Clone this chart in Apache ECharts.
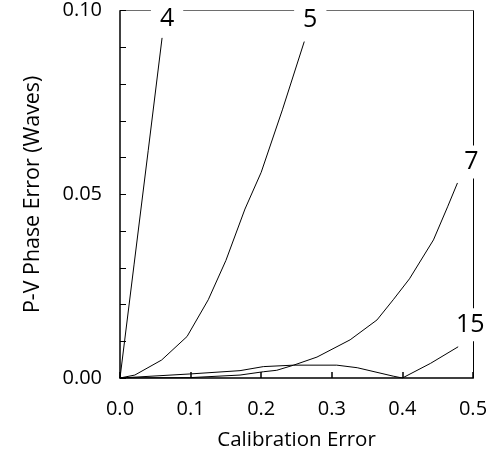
<!DOCTYPE html>
<html>
<head>
<meta charset="utf-8">
<script src="https://cdn.jsdelivr.net/npm/echarts@6/dist/echarts.min.js"></script>
<style>
html,body{margin:0;padding:0;background:#fff;}
#chart{width:494px;height:469px;}
</style>
</head>
<body>
<div id="chart"></div>
<script>
// Calibration error (x) vs P-V phase error in waves (y), one curve per label
const curveNames = ['4', '5', '7', '15'];

const curve4X = [0, 0.02, 0.04, 0.0596];
const curve4Y = [0, 0.031, 0.062, 0.0926];

const curve5X = [0, 0.021, 0.059, 0.095, 0.125, 0.15, 0.177, 0.2, 0.23, 0.261];
const curve5Y = [0, 0.0008, 0.0049, 0.0113, 0.0213, 0.032, 0.046, 0.056, 0.073, 0.0916];

const curve7X = [0, 0.099, 0.17, 0.203, 0.222, 0.246, 0.279, 0.326, 0.364, 0.387, 0.41, 0.444, 0.464, 0.478];
const curve7Y = [0, 0.0001, 0.0008, 0.0017, 0.0021, 0.0035, 0.0057, 0.0104, 0.0158, 0.0213, 0.027, 0.0376, 0.0466, 0.0531];

const curve15X = [0, 0.099, 0.17, 0.203, 0.246, 0.307, 0.336, 0.387, 0.4, 0.44, 0.479];
const curve15Y = [0, 0.0011, 0.002, 0.0031, 0.0035, 0.0035, 0.0028, 0.0005, 0, 0.004, 0.0085];

const xTicks = [0, 0.1, 0.2, 0.3, 0.4, 0.5];
const yTicks = [0, 0.05, 0.10];

const curvesX = [curve4X, curve5X, curve7X, curve15X];
const curvesY = [curve4Y, curve5Y, curve7Y, curve15Y];
const labelOffsets = [[5, -19], [6, -22], [14, -21], [12, -22]];

const FONT = 'Open Sans';

const chart = echarts.init(document.getElementById('chart'), null, {renderer: 'canvas'});

const series = curveNames.map((name, i) => ({
  name: name,
  type: 'line',
  data: curvesX[i].map((x, j) => [x, curvesY[i][j]]),
  symbol: 'none',
  smooth: false,
  lineStyle: {color: '#000', width: 1},
  z: 3,
  endLabel: {
    show: true,
    formatter: name,
    distance: 0,
    align: 'center',
    verticalAlign: 'middle',
    offset: labelOffsets[i],
    fontFamily: FONT,
    fontSize: 25,
    color: '#000',
    backgroundColor: '#fff',
    padding: [4, 9]
  },
  animation: false
}));

chart.setOption({
  animation: false,
  backgroundColor: '#fff',
  grid: {left: 120, right: 21, top: 10.7, bottom: 91, containLabel: false},
  xAxis: [{
    type: 'value',
    position: 'bottom',
    min: xTicks[0],
    max: xTicks[xTicks.length - 1],
    interval: 0.1,
    axisLine: {show: true, onZero: false, lineStyle: {color: '#000', width: 1.5}},
    axisTick: {show: true, inside: true, length: 6, lineStyle: {color: '#000', width: 1.5}},
    axisLabel: {margin: 21, fontFamily: FONT, fontSize: 20, color: '#000', formatter: v => v.toFixed(1)},
    splitLine: {show: false},
    name: 'Calibration Error',
    nameLocation: 'middle',
    nameGap: 52,
    nameTextStyle: {fontFamily: FONT, fontSize: 20.5, color: '#000'}
  }, {
    type: 'value',
    position: 'top',
    min: xTicks[0],
    max: xTicks[xTicks.length - 1],
    axisLine: {show: true, onZero: false, lineStyle: {color: '#6e6e6e', width: 1}},
    axisTick: {show: false},
    axisLabel: {show: false},
    splitLine: {show: false}
  }],
  yAxis: [{
    type: 'value',
    position: 'left',
    min: yTicks[0],
    max: yTicks[yTicks.length - 1],
    interval: 0.05,
    axisLine: {show: true, onZero: false, lineStyle: {color: '#000', width: 1.5}},
    axisTick: {show: true, inside: true, length: 6, lineStyle: {color: '#000', width: 1}},
    minorTick: {show: true, splitNumber: 5, length: 6, lineStyle: {color: '#000', width: 1}},
    axisLabel: {margin: 18, fontFamily: FONT, fontSize: 20, color: '#000', formatter: v => v.toFixed(2)},
    splitLine: {show: false},
    minorSplitLine: {show: false},
    name: 'P-V Phase Error (Waves)',
    nameLocation: 'middle',
    nameGap: 77,
    nameTextStyle: {fontFamily: FONT, fontSize: 21.4, color: '#000'}
  }, {
    type: 'value',
    position: 'right',
    min: yTicks[0],
    max: yTicks[yTicks.length - 1],
    axisLine: {show: true, onZero: false, lineStyle: {color: '#000', width: 1}},
    axisTick: {show: false},
    axisLabel: {show: false},
    splitLine: {show: false}
  }],
  series: series
});
</script>
</body>
</html>
